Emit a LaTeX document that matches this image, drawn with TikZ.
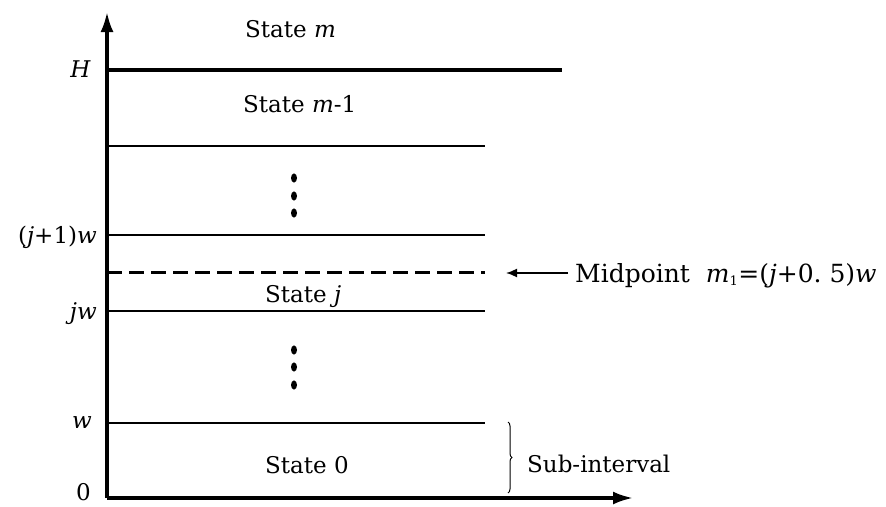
\documentclass[tikz,border=0pt]{standalone}
\usepackage{fontspec}
\setmainfont{DejaVu Serif}
\usetikzlibrary{arrows.meta,decorations.pathreplacing}
\begin{document}
\begin{tikzpicture}[x=1pt,y=-1pt,
  txt/.style={font=\fontsize{23}{26}\selectfont, inner sep=0pt},
  bigtxt/.style={font=\fontsize{25}{28}\selectfont, inner sep=0pt},
  axisline/.style={line width=3.2pt, -{Latex[length=20pt,width=13pt]}},
  boldlevel/.style={line width=3.2pt},
  level/.style={line width=1.6pt},
  midlevel/.style={line width=3pt, dash pattern=on 15pt off 7pt},
  pointer/.style={line width=1.6pt, -{Latex[length=11pt,width=9pt]}}]
\useasboundingbox (0,0) rectangle (886,506);

% axes
\coordinate (O) at (107,498);
\coordinate (ytop) at (107,12);
\coordinate (xend) at (633,498);
\draw[axisline] (O) -- (ytop);
\draw[axisline] (O) -- (xend);

% level lines
\coordinate (HL) at (107,70);   \coordinate (HR) at (562,70);
\coordinate (AL) at (107,146);  \coordinate (AR) at (485,146);
\coordinate (BL) at (107,235);  \coordinate (BR) at (485,235);
\coordinate (ML) at (107,272);  \coordinate (MR) at (485,272);
\coordinate (CL) at (107,311);  \coordinate (CR) at (485,311);
\coordinate (DL) at (107,423);  \coordinate (DR) at (485,423);
\draw[boldlevel] (HL) -- (HR);
\draw[level] (AL) -- (AR);
\draw[level] (BL) -- (BR);
\draw[midlevel] (ML) -- (MR);
\draw[level] (CL) -- (CR);
\draw[level] (DL) -- (DR);

% vertical ellipses
\foreach \yy in {178,196,213,350,367,385}
  \fill[black] (294,\yy) ellipse [x radius=3pt, y radius=4.6pt];

% state labels
\node[txt, anchor=base west] (sm)  at (245,37)  {State \textit{m}};
\node[txt, anchor=base west] (sm1) at (243,112) {State \textit{m}-1};
\node[txt, anchor=base west] (sj)  at (265,302) {State \textit{j}};
\node[txt, anchor=base west] (s0)  at (265,473) {State 0};

% axis labels
\node[txt, anchor=base east] (lH)  at (91,77)  {\textit{H}};
\node[txt, anchor=base east] (lj1) at (97,243) {(\textit{j}+1)\textit{w}};
\node[txt, anchor=base east] (lj)  at (97,319) {\textit{jw}};
\node[txt, anchor=base east] (lw)  at (92,428) {\textit{w}};
\node[txt, anchor=base east] (l0)  at (91,500) {0};

% midpoint annotation
\node[bigtxt, anchor=base west] (mid) at (575,282)
  {Midpoint\ \ \textit{m}\textsubscript{\fontsize{13}{13}\selectfont 1}=(\textit{j}+0.\ 5)\textit{w}};
\coordinate (ptrS) at (568,273);
\coordinate (ptrE) at (506,273);
\draw[pointer] (ptrS) -- (ptrE);

% sub-interval brace
\coordinate (brT) at (508,422);
\coordinate (brB) at (508,493);
\draw[line width=1pt, decorate, decoration={brace, amplitude=4pt}] (brT) -- (brB);
\node[txt, anchor=base west] (sub) at (527,472) {Sub-interval};
\end{tikzpicture}
\end{document}
